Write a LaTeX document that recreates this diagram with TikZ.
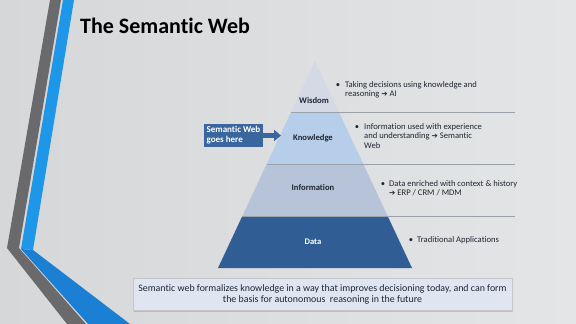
\documentclass[tikz,border=0pt]{standalone}
\usepackage{fontspec}
\setmainfont{Carlito}[Ligatures=CommonOff]
\newfontfamily\symfont{DejaVu Sans}
\usetikzlibrary{calc,shadows,arrows.meta}

\definecolor{bgedge}{HTML}{D6D7D9}
\definecolor{bgmid}{HTML}{F0F0F1}
\definecolor{bgright}{HTML}{E4E5E7}
\definecolor{bandgray}{HTML}{6A6A6C}
\definecolor{bandblue}{HTML}{1E97E8}
\definecolor{banddeep}{HTML}{1B7FD3}
\definecolor{wisdomfill}{HTML}{D3DAE6}
\definecolor{knowfill}{HTML}{B7CEEA}
\definecolor{infofill}{HTML}{B6C3D9}
\definecolor{datafill}{HTML}{2F5D94}
\definecolor{calloutfill}{HTML}{3A669E}
\definecolor{sepgray}{HTML}{9AA1A9}
\definecolor{inkdark}{HTML}{1F2633}
\definecolor{summaryfill}{HTML}{DFE6F2}

% heavy arrow glyph used inside the bullet texts
\newcommand{\rarr}{{\symfont\fontsize{7.5}{7.5}\selectfont\char"2794}}

\tikzset{
  layerlabel/.style={font=\fontsize{8.6}{10}\selectfont\bfseries, text=inkdark, inner sep=0pt},
  bullettext/.style={font=\fontsize{8.6}{9.2}\selectfont, text=inkdark, align=left, inner sep=0pt, anchor=north west},
  bulletdot/.style={font=\fontsize{8.6}{9.2}\selectfont, text=inkdark, inner sep=0pt},
  sepline/.style={draw=sepgray, line width=1.4pt},
  callout/.style={fill=calloutfill, text=white, font=\fontsize{9}{10}\selectfont\bfseries,
    align=left, minimum width=59pt, minimum height=23pt, inner sep=2pt},
  calloutarrow/.style={draw=calloutfill, line width=5pt, -{Triangle[width=11pt,length=7pt]}},
  summarybox/.style={fill=summaryfill, draw=gray!45, line width=0.4pt,
    drop shadow={opacity=0.35, shadow xshift=1pt, shadow yshift=-1.5pt},
    font=\fontsize{9.9}{11}\selectfont, text=inkdark, align=center,
    minimum width=379pt, minimum height=32pt, inner sep=0pt},
}

\begin{document}
\begin{tikzpicture}[x=1pt,y=-1pt]
\useasboundingbox (0,0) rectangle (576,324);

% slide background
\shade[left color=bgedge, middle color=bgmid, right color=bgright] (0,0) rectangle (576,324);

% decorative bands on the left edge
\fill[bandgray] (50,0) -- (61,0) -- (19,248) -- (86,324) -- (67,324) -- (7,248) -- cycle;
\fill[bandblue] (63,0) -- (74,0) -- (33,250) -- (21,249) -- cycle;
\fill[banddeep] (21,249) -- (33,250) -- (130,324) -- (88,324) -- cycle;

% title
\node[anchor=base west, font=\fontsize{22}{24}\selectfont\bfseries, text=black, inner sep=0pt]
  (title) at (80,33) {The Semantic Web};

% pyramid
\coordinate (apex) at (315,61);
\coordinate (bl) at (218,268);
\coordinate (br) at (412,268);
\coordinate (l1) at ($(apex)!0.25!(bl)$);
\coordinate (r1) at ($(apex)!0.25!(br)$);
\coordinate (l2) at ($(apex)!0.5!(bl)$);
\coordinate (r2) at ($(apex)!0.5!(br)$);
\coordinate (l3) at ($(apex)!0.75!(bl)$);
\coordinate (r3) at ($(apex)!0.75!(br)$);
\coordinate (lineend) at (515,0);

\fill[wisdomfill] (apex) -- (r1) -- (l1) -- cycle;
\fill[knowfill] (l1) -- (r1) -- (r2) -- (l2) -- cycle;
\fill[infofill] (l2) -- (r2) -- (r3) -- (l3) -- cycle;
\fill[datafill] (l3) -- (r3) -- (br) -- (bl) -- cycle;

% layer separators running out to the right
\draw[sepline] (l1) -- (l1 -| lineend);
\draw[sepline] (l2) -- (l2 -| lineend);
\draw[sepline] (l3) -- (l3 -| lineend);

% layer names
\node[layerlabel] (wisdom) at (314,101) {Wisdom};
\node[layerlabel] (knowledge) at (313,138) {Knowledge};
\node[layerlabel] (information) at (313,188) {Information};
\node[layerlabel, text=white] (data) at (313,242) {Data};

% callout pointing at the knowledge layer
\node[callout] (swbox) at (233.5,135.5) {Semantic Web\\goes here};
\coordinate (swtip) at (281,135.5);
\draw[calloutarrow] (swbox.east) -- (swtip);

% descriptions beside each layer
\node[bulletdot] (b1) at (338,85.5) {\textbullet};
\node[bullettext] (t1) at (345,81.5) {Taking decisions using knowledge and\\reasoning \rarr\ AI};
\node[bulletdot] (b2) at (357,127.5) {\textbullet};
\node[bullettext] (t2) at (364,123.5) {Information used with experience\\and understanding \rarr\ Semantic\\Web};
\node[bulletdot] (b3) at (383,184.5) {\textbullet};
\node[bullettext] (t3) at (389,180.5) {Data enriched with context \& history\\\rarr\ ERP / CRM / MDM};
\node[bulletdot] (b4) at (411,240.5) {\textbullet};
\node[bullettext] (t4) at (417,236.5) {Traditional Applications};

% summary box
\node[summarybox] (summary) at (322.5,294)
  {Semantic web formalizes knowledge in a way that improves decisioning today, and can form\\
   the basis for autonomous\ \ reasoning in the future};
\end{tikzpicture}
\end{document}
